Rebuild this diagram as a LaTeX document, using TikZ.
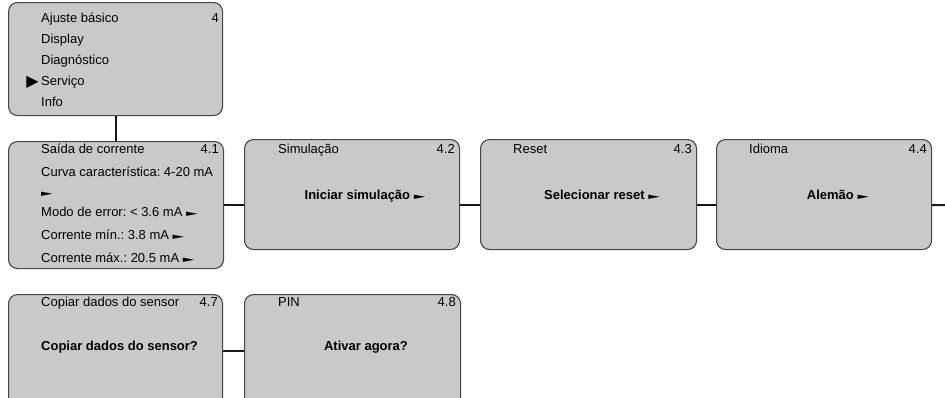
\documentclass[tikz,border=0pt]{standalone}
\usepackage{fontspec}
\setmainfont{Liberation Sans}
\newfontfamily\symfont{DejaVu Sans}
\usetikzlibrary{positioning}
\frenchspacing

\definecolor{boxgray}{RGB}{200,201,203}
\definecolor{rimgray}{RGB}{70,70,70}
\tikzset{
  menubox/.style={draw=rimgray, line width=1.1pt, fill=boxgray, rounded corners=9pt,
    anchor=north west, inner sep=0pt},
  itemtext/.style={anchor=base west, inner sep=0pt, font=\fontsize{13}{15}\selectfont},
  numtext/.style={anchor=base east, inner sep=0pt, font=\fontsize{13}{15}\selectfont},
  boldtext/.style={anchor=base, inner sep=0pt, font=\fontsize{13}{15}\selectfont\bfseries},
  link/.style={line width=2pt, black!90}
}
\newcommand{\ptr}{{\symfont\fontseries{m}\fontsize{12}{14}\selectfont\scalebox{1.25}[0.72]{►}}}

\begin{document}
\begin{tikzpicture}[x=1pt, y=-1pt]
    \useasboundingbox (0,0) rectangle (945,397);
    \clip (0,0) rectangle (945,397);

    % Main menu
    \node[menubox, minimum width=214pt, minimum height=113pt] (b4) at (8,2) {};
    \node[itemtext] (t4a) at (41,22.5) {Ajuste básico};
    \node[itemtext] (t4b) at (41,43.5) {Display};
    \node[itemtext] (t4c) at (41,64.5) {Diagnóstico};
    \node[itemtext] (t4d) at (41,85.5) {Serviço};
    \node[itemtext] (t4e) at (41,106) {Info};
    \node[numtext] (n4) at (219,22.5) {4};
    \node[anchor=base east, inner sep=0pt, font=\symfont\fontsize{16}{17}\selectfont] (sel) at (39,86.5) {▶};

    % Service submenus
    \node[menubox, minimum width=215pt, minimum height=127pt] (b41) at (8,141) {};
    \node[itemtext] (t41a) at (41,153) {Saída de corrente};
    \node[itemtext] (t41b) at (41,176.5) {Curva característica: 4-20 mA};
    \node[itemtext] (t41c) at (41,196) {\ptr};
    \node[itemtext] (t41d) at (41,216.5) {Modo de error: < 3.6 mA \ptr};
    \node[itemtext] (t41e) at (41,239.5) {Corrente mín.: 3.8 mA \ptr};
    \node[itemtext] (t41f) at (41,262.5) {Corrente máx.: 20.5 mA \ptr};
    \node[numtext] (n41) at (219,153) {4.1};

    \node[menubox, minimum width=215pt, minimum height=110pt] (b42) at (244,139) {};
    \node[itemtext] (t42) at (278,153) {Simulação};
    \node[numtext] (n42) at (455,153) {4.2};
    \node[boldtext] (v42) at (365,199.5) {Iniciar simulação \ptr};

    \node[menubox, minimum width=216pt, minimum height=110pt] (b43) at (480,139) {};
    \node[itemtext] (t43) at (513,153) {Reset};
    \node[numtext] (n43) at (692,153) {4.3};
    \node[boldtext] (v43) at (602,199.5) {Selecionar reset \ptr};

    \node[menubox, minimum width=215pt, minimum height=110pt] (b44) at (716,139) {};
    \node[itemtext] (t44) at (749,153) {Idioma};
    \node[numtext] (n44) at (927,153) {4.4};
    \node[boldtext] (v44) at (838,199.5) {Alemão \ptr};

    \node[menubox, minimum width=214pt, minimum height=112pt] (b47) at (8,294) {};
    \node[itemtext] (t47) at (41,306.5) {Copiar dados do sensor};
    \node[numtext] (n47) at (218,306.5) {4.7};
    \node[itemtext, font=\fontsize{13}{15}\selectfont\bfseries] (v47) at (41,350.5) {Copiar dados do sensor?};

    \node[menubox, minimum width=216pt, minimum height=112pt] (b48) at (244,294) {};
    \node[itemtext] (t48) at (278,306.5) {PIN};
    \node[numtext] (n48) at (456,306.5) {4.8};
    \node[boldtext] (v48) at (366,350.5) {Ativar agora?};

    % Connectors
    \coordinate (edge) at (945,205);
    \draw[link] (b4.south) -- (b4.south |- b41.north);
    \draw[link] (b41.east) -- (b41.east -| b42.west);
    \draw[link] (b41.east -| b42.east) -- (b41.east -| b43.west);
    \draw[link] (b41.east -| b43.east) -- (b41.east -| b44.west);
    \draw[link] (b41.east -| b44.east) -- (edge);
    \draw[link] (b47.east) -- (b48.west);
\end{tikzpicture}
\end{document}
